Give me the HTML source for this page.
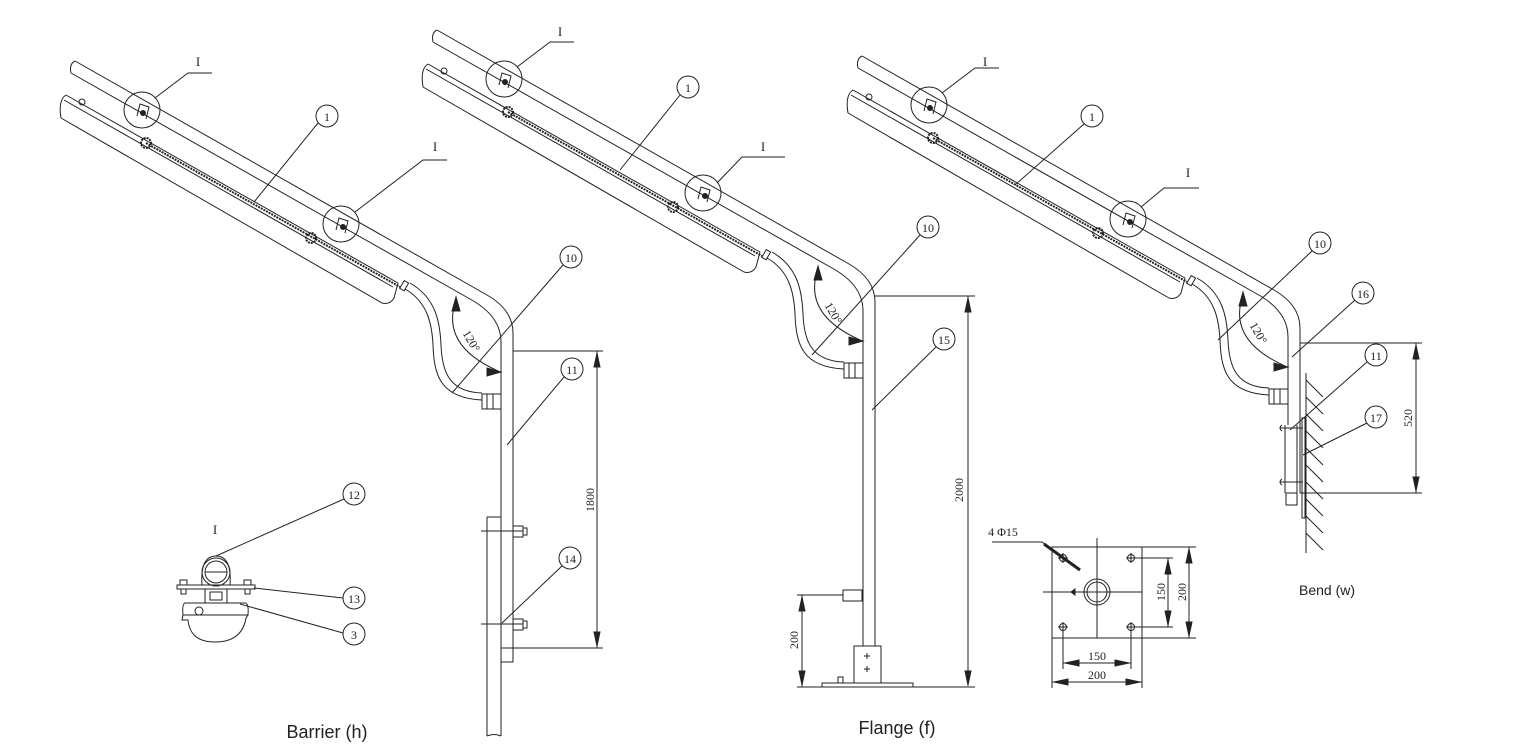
<!DOCTYPE html>
<html><head><meta charset="utf-8"><style>
html,body{margin:0;padding:0;background:#fff}
svg{display:block}
text{font-family:"Liberation Serif",serif;fill:#222}
.lbl{font-family:"Liberation Sans",sans-serif}
</style></head><body>
<svg width="1520" height="748" viewBox="0 0 1520 748" xmlns="http://www.w3.org/2000/svg">
<defs>
<g id="arm" fill="none" stroke="#222" stroke-width="1">
  <path d="M75,61 L487,295 Q513,310 513,333 L513,345"/>
  <path d="M71,73 L470,299 Q501,316 501,342 L501,345"/>
  <path d="M75,61 Q69,64 71,73"/>
  <path d="M66,95 L398,283"/>
  <path d="M64,100 L393,287"/>
  <path d="M61,118 L382,303"/>
  <path d="M66,95 Q58,100 61,118"/>
  <path d="M398,283 L394,298 Q390,305 382,303"/>
  <circle cx="82" cy="102" r="3"/>
  <path d="M146,143 L400,287" stroke-width="2" stroke-dasharray="2,1"/>
  <g stroke-width="2">
    <circle cx="146" cy="143" r="5" stroke-dasharray="2,1"/>
    <circle cx="311" cy="238" r="5" stroke-dasharray="2,1"/>
  </g>
  <rect x="402" y="281" width="5" height="9" transform="rotate(30 404 285)"/>
  <circle cx="142" cy="110" r="18"/>
  <circle cx="341" cy="224" r="18"/>
  <path d="M137,116 L140,104 L149,107 L146,119" />
  <circle cx="143" cy="113" r="2.5" fill="#222"/>
  <path d="M336,230 L339,218 L348,221 L345,233"/>
  <circle cx="343" cy="227" r="2.5" fill="#222"/>
  <path d="M405,289 C428,302 432,325 433,345 C434,375 440,398 482,400"/>
  <path d="M410,283 C436,298 440,322 441,345 C442,370 448,392 482,393"/>
  <rect x="482" y="394" width="19" height="15"/>
  <path d="M487,394 V409 M493,394 V409"/>
  <path d="M456,300 Q440,345 498,371"/>
  <path d="M456,297 L452,311 L460,311 Z" fill="#222"/>
  <path d="M501,372 L487,368 L487,376 Z" fill="#222"/>
</g>
</defs>

<g fill="none" stroke="#222" stroke-width="1">
<use href="#arm"/>
<use href="#arm" transform="translate(362,-31)"/>
<use href="#arm" transform="translate(787,-5)"/>

<path d="M501,342 V517 M513,342 V650"/>
<path d="M487,517 H501 M487,517 V736 M501,517 V736 M487,736 Q494,733 501,736"/>
<rect x="501" y="648" width="12" height="14"/>
<path d="M481,531 H523 M481,624 H523"/>
<rect x="513" y="526" width="10" height="11"/><rect x="523" y="528" width="4" height="7"/>
<rect x="513" y="619" width="10" height="11"/><rect x="523" y="621" width="4" height="7"/>
<path d="M513,351 H603 M513,648 H603 M597,351 V648"/>
<path d="M597,353 L594,367 L600,367 Z M597,646 L594,632 L600,632 Z" fill="#222"/>
<path d="M155,98 L188,73 H212 M355,212 L423,160 H447"/>
<circle cx="327" cy="116" r="11"/><path d="M318,123 L254,202"/>
<circle cx="571" cy="257" r="11"/><path d="M563,265 L452,393"/>
<circle cx="572" cy="369" r="11"/><path d="M564,377 L507,445"/>
<circle cx="570" cy="558" r="11"/><path d="M562,566 L502,623"/>

<circle cx="216" cy="572" r="14"/><circle cx="216" cy="572" r="11"/>
<path d="M202,585 Q200,556 216,556 Q232,556 230,585"/>
<path d="M205,572 H227"/>
<rect x="177" y="585" width="78" height="4"/>
<rect x="180" y="580" width="7" height="5"/><rect x="244" y="580" width="7" height="5"/>
<rect x="181" y="589" width="5" height="5"/><rect x="245" y="589" width="5" height="5"/>
<rect x="205" y="589" width="22" height="14"/><rect x="210" y="592" width="12" height="8"/>
<path d="M185,603 H245 Q249,603 248,615 H183 Q182,604 185,603 Z"/>
<path d="M183,615 L182,620 H188 Q190,642 215,642 Q242,642 246,618 L248,615"/>
<circle cx="199" cy="611" r="4"/>
<circle cx="354" cy="494" r="11"/><path d="M344,499 L216,556"/>
<circle cx="354" cy="598" r="11"/><path d="M343,598 L254,588"/>
<circle cx="354" cy="634" r="11"/><path d="M343,633 L240,604"/>

<path d="M863,311 V646 M875,311 V646"/>
<path d="M875,296 H975 M968,296 V686 M797,687 H975"/>
<path d="M968,298 L965,312 L971,312 Z M968,685 L965,671 L971,671 Z" fill="#222"/>
<rect x="822" y="683" width="91" height="4"/>
<rect x="854" y="646" width="27" height="37"/>
<path d="M864,656 H870 M867,653 V659 M864,669 H870 M867,666 V672"/>
<path d="M838,683 V677 H843 V683"/>
<rect x="843" y="590" width="19" height="11"/>
<path d="M797,595 H843 M802,595 V687"/>
<path d="M802,597 L799,611 L805,611 Z M802,685 L799,671 L805,671 Z" fill="#222"/>
<path d="M517,67 L550,42 H574 M717,183 L742,157 H785"/>
<circle cx="688" cy="87" r="11"/><path d="M680,95 L620,170"/>
<circle cx="928" cy="227" r="11"/><path d="M920,235 L812,355"/>
<circle cx="944" cy="339" r="11"/><path d="M936,347 L872,410"/>

<rect x="1052" y="547" width="90" height="91"/>
<circle cx="1097" cy="592" r="13"/><circle cx="1097" cy="592" r="10"/>
<path d="M1097,538 V638 M1043,592 H1142"/>
<g>
<circle cx="1063" cy="558" r="3.5"/><circle cx="1131" cy="558" r="3.5"/>
<circle cx="1063" cy="627" r="3.5"/><circle cx="1131" cy="627" r="3.5"/>
<path d="M1058,558 H1068 M1063,553 V563 M1126,558 H1136 M1131,553 V563 M1058,627 H1068 M1063,622 V632 M1126,627 H1136 M1131,622 V632"/>
</g>
<path d="M1071,592 L1075,589 L1075,595 Z" fill="#222"/>
<path d="M1131,558 H1173 M1131,627 H1173 M1168,558 V627"/>
<path d="M1142,547 H1196 M1142,638 H1196 M1189,547 V638"/>
<path d="M1063,627 V669 M1131,627 V669 M1063,663 H1131 M1052,638 V688 M1142,638 V688 M1052,682 H1142"/>
<path d="M1168,560 L1165,574 L1171,574 Z M1168,625 L1165,611 L1171,611 Z M1189,549 L1186,563 L1192,563 Z M1189,636 L1186,622 L1192,622 Z" fill="#222"/>
<path d="M1065,663 L1079,660 L1079,666 Z M1129,663 L1115,660 L1115,666 Z M1054,682 L1068,679 L1068,685 Z M1140,682 L1126,679 L1126,685 Z" fill="#222"/>
<path d="M992,542 H1042 L1080,570" />
<path d="M1044,544 L1080,570" stroke-width="3"/>

<path d="M1288,337 V425 M1300,337 V493"/>
<path d="M1285,425 V493 M1297,425 V493"/>
<path d="M1280,428 H1303 M1280,482 H1303"/>
<path d="M1282,425 Q1278,428 1282,431 M1282,479 Q1278,482 1282,485"/>
<rect x="1286" y="493" width="11" height="12"/>
<rect x="1302" y="418" width="3" height="100"/>
<path d="M1306,373 V553"/>
<path d="M1306,380 L1323,397 M1306,397 L1323,414 M1306,414 L1323,431 M1306,431 L1323,448 M1306,448 L1323,465 M1306,465 L1323,482 M1306,482 L1323,499 M1306,499 L1323,516 M1306,516 L1323,533 M1306,533 L1323,550"/>
<path d="M1300,343 H1422 M1300,493 H1422 M1416,343 V493"/>
<path d="M1416,345 L1413,359 L1419,359 Z M1416,491 L1413,477 L1419,477 Z" fill="#222"/>
<path d="M942,93 L975,68 H999 M1141,207 L1164,188 H1199"/>
<circle cx="1092" cy="116" r="11"/><path d="M1084,124 L1015,185"/>
<circle cx="1320" cy="243" r="11"/><path d="M1312,251 L1218,340"/>
<circle cx="1363" cy="293" r="11"/><path d="M1355,300 L1292,357"/>
<circle cx="1376" cy="355" r="11"/><path d="M1367,362 L1290,430"/>
<circle cx="1376" cy="417" r="11"/><path d="M1367,423 L1303,455"/>
</g>

<g font-size="13" text-anchor="middle">
<text x="198" y="66">I</text><text x="435" y="151">I</text>
<text x="560" y="36">I</text><text x="763" y="151">I</text>
<text x="985" y="66">I</text><text x="1188" y="177">I</text>
<text x="215" y="534">I</text>
<text x="327" y="121" font-size="12">1</text>
<text x="688" y="92" font-size="12">1</text>
<text x="1092" y="121" font-size="12">1</text>
<text x="571" y="262" font-size="12">10</text>
<text x="928" y="232" font-size="12">10</text>
<text x="1320" y="248" font-size="12">10</text>
<text x="572" y="374" font-size="12">11</text>
<text x="1376" y="360" font-size="12">11</text>
<text x="570" y="563" font-size="12">14</text>
<text x="354" y="499" font-size="12">12</text>
<text x="354" y="603" font-size="12">13</text>
<text x="354" y="639" font-size="12">3</text>
<text x="944" y="344" font-size="12">15</text>
<text x="1363" y="298" font-size="12">16</text>
<text x="1376" y="422" font-size="12">17</text>
<text x="0" y="0" font-size="12" transform="translate(468,343) rotate(60)">120°</text>
<text x="0" y="0" font-size="12" transform="translate(830,315) rotate(60)">120°</text>
<text x="0" y="0" font-size="12" transform="translate(1255,335) rotate(60)">120°</text>
<text x="0" y="0" font-size="12" transform="translate(594,500) rotate(-90)">1800</text>
<text x="0" y="0" font-size="12" transform="translate(963,490) rotate(-90)">2000</text>
<text x="0" y="0" font-size="12" transform="translate(798,640) rotate(-90)">200</text>
<text x="0" y="0" font-size="12" transform="translate(1412,418) rotate(-90)">520</text>
<text x="0" y="0" font-size="12" transform="translate(1165,592) rotate(-90)">150</text>
<text x="0" y="0" font-size="12" transform="translate(1186,592) rotate(-90)">200</text>
<text x="1097" y="660" font-size="12">150</text>
<text x="1097" y="679" font-size="12">200</text>
<text x="1003" y="536" font-size="12">4 Φ15</text>
</g>
<g class="lbl" text-anchor="middle" fill="#222">
<text class="lbl" x="327" y="738" font-size="18">Barrier (h)</text>
<text class="lbl" x="897" y="734" font-size="18">Flange (f)</text>
<text class="lbl" x="1327" y="595" font-size="14">Bend (w)</text>
</g>
</svg>
</body></html>
